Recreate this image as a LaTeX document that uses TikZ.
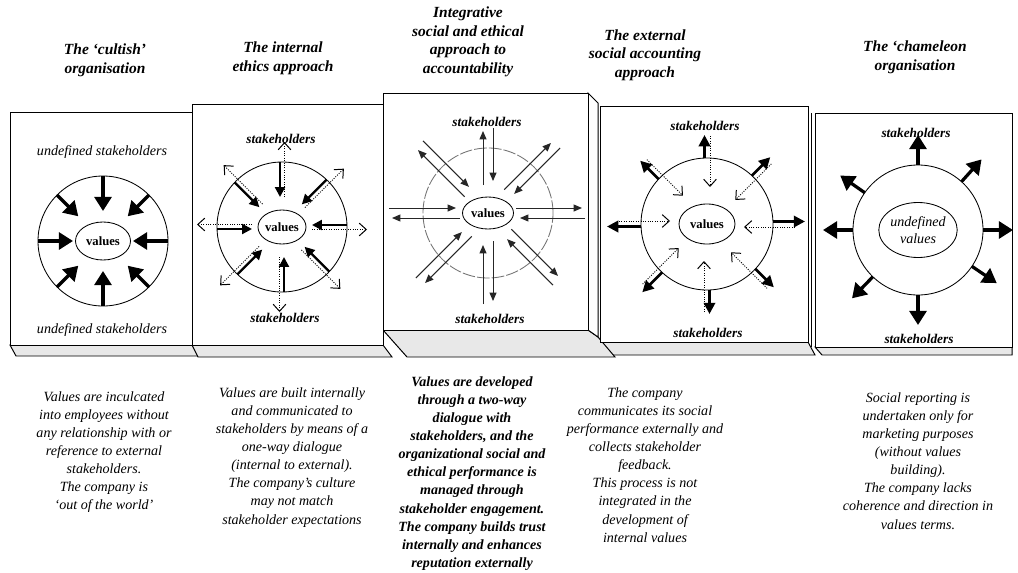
\documentclass[tikz,border=0pt]{standalone}
\usepackage{fontspec}
\setmainfont{Liberation Serif}
\usetikzlibrary{calc,arrows.meta,shapes.geometric}

\tikzset{
  panel/.style={draw,line width=0.7pt,fill=white},
  floor/.style={draw,line width=0.7pt,fill=black!9},
  ring/.style={draw,line width=0.6pt},
  core/.style={draw,ellipse,line width=0.6pt,inner sep=0pt,font=\fontsize{9}{10}\selectfont\bfseries},
  heading/.style={align=center,font=\fontsize{11}{13.2}\selectfont\bfseries\itshape},
  caption/.style={align=center,anchor=north,inner sep=0pt,font=\fontsize{10}{12.9}\selectfont\itshape},
  stake/.style={font=\fontsize{9.5}{11}\selectfont\bfseries\itshape},
  fatarrow/.style={line width=2.3pt,-{Triangle[length=10pt,width=12pt]}},
  inarrow/.style={line width=1.6pt,-{Triangle[length=7pt,width=7pt]}},
  outarrow/.style={line width=1.9pt,-{Triangle[length=8pt,width=8pt]}},
  backarrow/.style={line width=0.7pt,densely dotted,-{Straight Barb[length=5pt,width=9pt,line width=0.7pt]}},
  thinarrow/.style={line width=0.7pt,black!85,-{Triangle[length=6pt,width=5pt]}}
}

\begin{document}
\begin{tikzpicture}[x=0.025cm,y=0.025cm]
\useasboundingbox (0,0) rectangle (1018,-572);

% floors
\draw[floor] (10,-345) -- (192,-345) -- (200,-356) -- (16,-356) -- cycle;
\draw[floor] (192,-345) -- (383,-345) -- (392,-357) -- (198,-357) -- cycle;
\draw[floor] (600,-342) -- (808,-342) -- (815,-355) -- (610,-355) -- cycle;
\draw[floor] (815,-347) -- (1012,-347) -- (1012,-355) -- (822,-355) -- cycle;
\draw[floor] (383,-330) -- (588,-330) -- (598,-337) -- (615,-357) -- (407,-357) -- cycle;

% panels
\draw[panel] (10,-112) rectangle (192,-345);
\draw[panel] (192,-104) rectangle (383,-345);
\draw[panel] (600,-106) rectangle (808,-342);
\draw[panel] (815,-113) rectangle (1012,-347);
\draw[line width=0.6pt] (811,-113) -- (811,-347);
\draw[panel] (588,-93) -- (598,-103) -- (598,-337) -- (588,-330) -- cycle;
\draw[panel] (383,-93) rectangle (588,-330);

% titles
\node[heading] (t1) at (105,-60) {The `cultish'\\organisation};
\node[heading] (t2) at (283,-58) {The internal\\ethics approach};
\node[heading] (t3) at (468,-42) {Integrative\\social and ethical\\approach to\\accountability};
\node[heading] (t4) at (645,-55) {The external\\social accounting\\approach};
\node[heading] (t5) at (915,-57) {The `chameleon\\organisation};

% centres
\coordinate (c1) at (103,-241);
\coordinate (c2) at (282,-227);
\coordinate (c3) at (488,-213);
\coordinate (c4) at (707,-224);
\coordinate (c5) at (918,-230);

% the 'cultish' organisation
\draw[ring] (c1) circle (65);
\node[core,minimum width=1.375cm,minimum height=0.95cm] (v1) at (c1) {values};
\foreach \a/\r in {0/30,45/35,90/30,135/35,180/30,225/35,270/30,315/35}
  \draw[fatarrow] ($(c1)+(\a:65)$) -- ($(c1)+(\a:\r)$);
\node[font=\fontsize{10}{11}\selectfont\itshape] (s1a) at (102,-152) {undefined stakeholders};
\node[font=\fontsize{10}{11}\selectfont\itshape] (s1b) at (102,-330) {undefined stakeholders};

% internal ethics
\draw[ring] (c2) circle (65);
\node[core,minimum width=1.2cm,minimum height=0.85cm] (v2) at (c2) {values};
\foreach \a in {0,45,...,315} {
  \draw[inarrow] ($(c2)+(\a:65)+(\a+90:2)$) -- ($(c2)+(\a:30)+(\a+90:2)$);
  \draw[backarrow] ($(c2)+(\a:30)+(\a-90:2.5)$) -- ($(c2)+(\a:85)+(\a-90:2.5)$);
}
\node[stake] (s2a) at (281,-139) {stakeholders};
\node[stake] (s2b) at (285,-318) {stakeholders};

% integrative approach
\draw[ring,black!55,dash pattern=on 9pt off 1.5pt] (c3) circle (65);
\node[core,minimum width=1.275cm,minimum height=0.8cm] (v3) at (c3) {values};
\foreach \a/\r in {0/94,45/94,90/82,135/94,180/96,225/94,270/88,315/94} {
  \draw[thinarrow] ($(c3)+(\a:28)+(\a+90:5)$) -- ($(c3)+(\a:\r)+(\a+90:5)$);
  \draw[thinarrow] ($(c3)+(\a:\r+3)+(\a-90:5)$) -- ($(c3)+(\a:32)+(\a-90:5)$);
}
\node[stake] (s3a) at (487,-122) {stakeholders};
\node[stake] (s3b) at (490,-319) {stakeholders};

% external social accounting
\draw[ring] (c4) circle (66);
\node[core,minimum width=1.4cm,minimum height=1.0cm] (v4) at (c4) {values};
\foreach \a/\r in {0/98,45/92,90/89,135/92,180/100,225/94,270/90,315/92} {
  \draw[outarrow] ($(c4)+(\a:66)+(\a+90:2.5)$) -- ($(c4)+(\a:\r)+(\a+90:2.5)$);
  \draw[backarrow] ($(c4)+(\a:88)+(\a-90:3)$) -- ($(c4)+(\a:37)+(\a-90:3)$);
}
\node[stake] (s4a) at (705,-126) {stakeholders};
\node[stake] (s4b) at (708,-333) {stakeholders};

% chameleon organisation
\draw[ring] (c5) circle (65);
\node[draw,ellipse,line width=0.6pt,inner sep=0pt,minimum width=1.675cm,minimum height=1.375cm,
  align=center,font=\fontsize{10}{12}\selectfont\itshape] (v5) at (c5) {undefined\\values};
\foreach \a in {90,48,0,-34,-90,-134,180,145}
  \draw[fatarrow] ($(c5)+(\a:65)$) -- ($(c5)+(\a:95)$);
\node[stake] (s5a) at (916,-133) {stakeholders};
\node[stake] (s5b) at (919,-339) {stakeholders};

% descriptions
\node[caption] (d1) at (104,-391) {Values are inculcated\\into employees without\\any relationship with or\\reference to external\\stakeholders.\\The company is\\`out of the world'};
\node[caption] (d2) at (292,-387) {Values are built internally\\and communicated to\\stakeholders by means of a\\one-way dialogue\\(internal to external).\\The company's culture\\may not match\\stakeholder expectations};
\node[caption,font=\fontsize{10}{12.9}\selectfont\bfseries\itshape] (d3) at (472,-376) {Values are developed\\through a two-way\\dialogue with\\stakeholders, and the\\organizational social and\\ethical performance is\\managed through\\stakeholder engagement.\\The company builds trust\\internally and enhances\\reputation externally};
\node[caption] (d4) at (645,-387) {The company\\communicates its social\\performance externally and\\collects stakeholder\\feedback.\\This process is not\\integrated in the\\development of\\internal values};
\node[caption] (d5) at (918,-392) {Social reporting is\\undertaken only for\\marketing purposes\\(without values\\building).\\The company lacks\\coherence and direction in\\values terms.};
\end{tikzpicture}
\end{document}
